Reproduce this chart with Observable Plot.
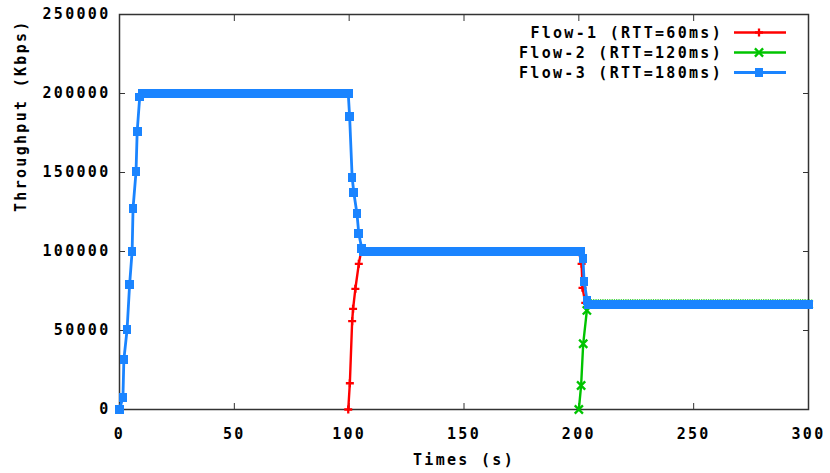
<!DOCTYPE html>
<html>
<head>
<meta charset="utf-8">
<script src="https://cdn.jsdelivr.net/npm/d3@7"></script>
<script src="https://cdn.jsdelivr.net/npm/@observablehq/plot@0.6"></script>
<style>
  html, body { margin: 0; padding: 0; background: #fff; }
  #chart { width: 830px; height: 473px; }
</style>
</head>
<body>
<div id="chart"></div>
<script>
// Legend entries, drawn in this order
const flowNames = ["Flow-1 (RTT=60ms)", "Flow-2 (RTT=120ms)", "Flow-3 (RTT=180ms)"];
const flowColors = ["#ff0000", "#00c400", "#1a84ff"];
const flowSymbols = ["plus", "times", "square"];

const xTicks = [0, 50, 100, 150, 200, 250, 300];
const yTicks = [0, 50000, 100000, 150000, 200000, 250000];
const xTitle = "Times (s)";
const yTitle = "Throughput (Kbps)";

// Steady-state share of the 200 Mbps link with 1, 2 and 3 active flows (Kbps)
const fairShare = [200000, 100000, 66667];

// Sample times of the steady phases (s), one sample per second
const phase1Times = [10, 11, 12, 13, 14, 15, 16, 17, 18, 19, 20, 21, 22, 23, 24, 25, 26, 27, 28, 29,
  30, 31, 32, 33, 34, 35, 36, 37, 38, 39, 40, 41, 42, 43, 44, 45, 46, 47, 48, 49,
  50, 51, 52, 53, 54, 55, 56, 57, 58, 59, 60, 61, 62, 63, 64, 65, 66, 67, 68, 69,
  70, 71, 72, 73, 74, 75, 76, 77, 78, 79, 80, 81, 82, 83, 84, 85, 86, 87, 88, 89,
  90, 91, 92, 93, 94, 95, 96, 97, 98, 99, 99.6];
const phase2Times = [106, 107, 108, 109, 110, 111, 112, 113, 114, 115, 116, 117, 118, 119,
  120, 121, 122, 123, 124, 125, 126, 127, 128, 129, 130, 131, 132, 133, 134, 135, 136, 137, 138, 139,
  140, 141, 142, 143, 144, 145, 146, 147, 148, 149, 150, 151, 152, 153, 154, 155, 156, 157, 158, 159,
  160, 161, 162, 163, 164, 165, 166, 167, 168, 169, 170, 171, 172, 173, 174, 175, 176, 177, 178, 179,
  180, 181, 182, 183, 184, 185, 186, 187, 188, 189, 190, 191, 192, 193, 194, 195, 196, 197, 198, 199, 200];
const phase3Times = [204, 205, 206, 207, 208, 209, 210, 211, 212, 213, 214, 215, 216, 217, 218, 219,
  220, 221, 222, 223, 224, 225, 226, 227, 228, 229, 230, 231, 232, 233, 234, 235, 236, 237, 238, 239,
  240, 241, 242, 243, 244, 245, 246, 247, 248, 249, 250, 251, 252, 253, 254, 255, 256, 257, 258, 259,
  260, 261, 262, 263, 264, 265, 266, 267, 268, 269, 270, 271, 272, 273, 274, 275, 276, 277, 278, 279,
  280, 281, 282, 283, 284, 285, 286, 287, 288, 289, 290, 291, 292, 293, 294, 295, 296, 297, 298, 299, 300];

// Transient samples: [time (s), throughput (Kbps)]
const flow1Start = [[99.6, 0], [100.3, 16600], [101.3, 55900], [101.7, 63700], [102.7, 76400], [104.2, 92200], [105.2, 100000]];
const flow1Drop = [[201.2, 92200], [201.6, 77000], [202.8, 67500]];
const flow2Start = [[200, 0], [201, 15200], [201.9, 41600], [203.5, 62700]];
const flow3Start = [[0, 0], [1.5, 7800], [1.9, 31600], [3.3, 50600], [4.4, 79000], [5.5, 100200],
  [5.9, 127400], [7.2, 150600], [7.7, 176000], [8.8, 197700]];
const flow3Drop1 = [[100.2, 185400], [101.3, 147000], [102, 137500], [103.4, 123900], [104.2, 111200], [105.5, 101700]];
const flow3Drop2 = [[201, 100000], [201.8, 95600], [202.3, 81000], [203.6, 69000]];

const pts = (pairs) => pairs.map(([t, v]) => ({t, v}));
const level = (times, v) => times.map((t) => ({t, v}));

const flows = [
  [...pts(flow1Start), ...level(phase2Times, fairShare[1]), ...pts(flow1Drop), ...level(phase3Times, fairShare[2])],
  [...pts(flow2Start), ...level(phase3Times, fairShare[2])],
  [...pts(flow3Start), ...level(phase1Times, fairShare[0]), ...pts(flow3Drop1),
   ...level(phase2Times, fairShare[1]), ...pts(flow3Drop2), ...level(phase3Times, fairShare[2])]
];

// Dot radii chosen so every marker is about 8-9px across
const symbolR = [2.7, 3.8, 4.9];
const lineW = [2.4, 2.4, 2.8];

const seriesMarks = flows.flatMap((data, i) => [
  Plot.line(data, {x: "t", y: "v", stroke: flowColors[i], strokeWidth: lineW[i]}),
  flowSymbols[i] === "square"
    ? Plot.dot(data, {x: "t", y: "v", symbol: "square", r: symbolR[i], fill: flowColors[i], shapeRendering: "crispEdges"})
    : Plot.dot(data, {x: "t", y: "v", symbol: flowSymbols[i], r: symbolR[i], stroke: flowColors[i], strokeWidth: 2.3})
]);

const axisColor = "#333";
const fmt = (d) => String(d);
const blank = () => "";

const chart = Plot.plot({
  width: 830,
  height: 473,
  marginLeft: 119,
  marginRight: 22,
  marginTop: 14,
  marginBottom: 64,
  x: {domain: [0, 300]},
  y: {domain: [0, 250000]},
  style: {
    fontFamily: "'DejaVu Sans Mono', 'Liberation Mono', monospace",
    fontSize: "15px",
    fontWeight: "bold",
    letterSpacing: "2.3px",
    color: "#000",
    background: "#fff"
  },
  marks: [
    Plot.axisX(xTicks, {anchor: "bottom", tickSize: 0, tickPadding: 19, tickFormat: fmt, label: null, fill: "#000"}),
    Plot.axisX(xTicks, {anchor: "bottom", tickSize: -6, tickFormat: blank, label: null, stroke: axisColor}),
    Plot.axisX(xTicks, {anchor: "top", tickSize: -6, tickFormat: blank, label: null, stroke: axisColor}),
    Plot.axisY(yTicks, {anchor: "left", tickSize: 0, tickPadding: 9, tickFormat: fmt, label: null, fill: "#000"}),
    Plot.axisY(yTicks, {anchor: "left", tickSize: -6, tickFormat: blank, label: null, stroke: axisColor}),
    Plot.axisY(yTicks, {anchor: "right", tickSize: -6, tickFormat: blank, label: null, stroke: axisColor}),
    Plot.frame({stroke: axisColor, strokeWidth: 1.5}),
    Plot.text([xTitle], {frameAnchor: "bottom", dy: 55, text: (d) => d, fill: "#000"}),
    Plot.text([yTitle], {frameAnchor: "left", dx: -98, rotate: -90, text: (d) => d, fill: "#000"}),
    ...seriesMarks
  ]
});

document.getElementById("chart").appendChild(chart);

// Key in the upper-right corner of the plot area
const key = d3.select(chart).append("g");
const symbolType = {plus: d3.symbolPlus, times: d3.symbolTimes, square: d3.symbolSquare};
flowNames.forEach((name, i) => {
  const y = 32.5 + 20 * i;
  key.append("text")
    .attr("x", 723).attr("y", y).attr("dy", "0.36em")
    .attr("text-anchor", "end").attr("fill", "#000")
    .text(name);
  key.append("line")
    .attr("x1", 734).attr("x2", 786).attr("y1", y).attr("y2", y)
    .attr("stroke", flowColors[i]).attr("stroke-width", lineW[i]);
  const sym = key.append("path")
    .attr("transform", `translate(759,${y})`)
    .attr("d", d3.symbol(symbolType[flowSymbols[i]], Math.PI * symbolR[i] * symbolR[i])());
  if (flowSymbols[i] === "square") sym.attr("fill", flowColors[i]).attr("shape-rendering", "crispEdges");
  else sym.attr("fill", "none").attr("stroke", flowColors[i]).attr("stroke-width", 2.3);
});
</script>
</body>
</html>
